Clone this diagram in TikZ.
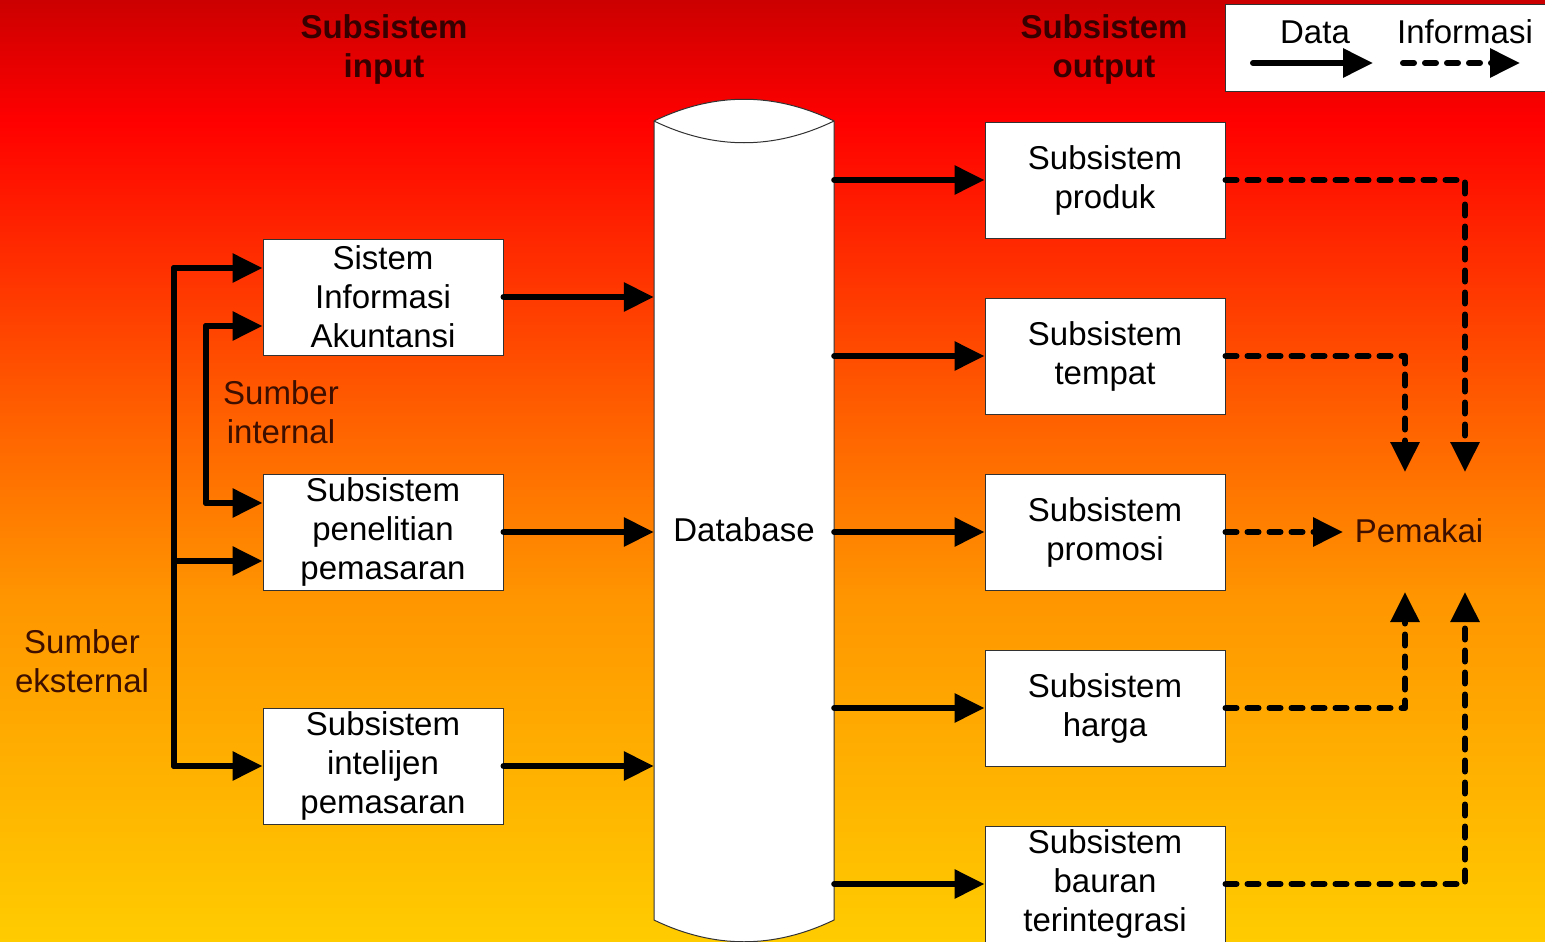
\documentclass[tikz,border=0pt]{standalone}
\usepackage{fontspec}
\setmainfont{Liberation Sans}
\usetikzlibrary{arrows.meta}
\definecolor{bgA}{RGB}{255,204,0}
\definecolor{bgB}{RGB}{255,150,0}
\definecolor{bgC}{RGB}{255,100,0}
\definecolor{bgD}{RGB}{255,40,0}
\definecolor{bgE}{RGB}{255,0,0}
\definecolor{bgF}{RGB}{204,0,0}
\definecolor{titlecol}{RGB}{55,0,0}
\definecolor{labelcol}{RGB}{60,15,0}
\definecolor{boxline}{RGB}{50,50,50}
\pgfdeclareverticalshading{bgshade}{100bp}{color(0bp)=(bgA); color(25bp)=(bgA); color(43.15bp)=(bgB); color(52.18bp)=(bgC); color(62.16bp)=(bgD); color(68.63bp)=(bgE); color(75bp)=(bgF); color(100bp)=(bgF)}
\tikzset{
  box/.style={draw=boxline, line width=1pt, fill=white, minimum width=240pt, minimum height=116pt, inner sep=0pt, align=center, font=\fontsize{33}{39}\selectfont},
  title/.style={align=center, text=titlecol, inner sep=0pt, font=\fontsize{33}{39}\selectfont\bfseries},
  label/.style={align=center, text=labelcol, inner sep=0pt, font=\fontsize{33}{39}\selectfont},
  plain/.style={align=center, inner sep=0pt, font=\fontsize{33}{39}\selectfont},
  data/.style={line width=6pt, line cap=round, line join=round, -{Triangle[length=30pt,width=28pt]}},
  info/.style={line width=6pt, line cap=round, line join=round, dash pattern=on 11pt off 11pt, -{Triangle[length=30pt,width=28pt]}}
}
\begin{document}
\begin{tikzpicture}[x=1pt, y=-1pt]
\useasboundingbox (0,0) rectangle (1545,942);
\shade[shading=bgshade] (0,0) rectangle (1545,942);

% titles
\node[title] (tin) at (384,49) {Subsistem\\input};
\node[title] (tout) at (1104,49) {Subsistem\\output};

% legend
\node[draw=boxline, line width=1pt, fill=white, minimum width=325pt, minimum height=87pt, inner sep=0pt, anchor=north west] (leg) at (1225,4) {};
\node[plain] (ldata) at (1315,32) {Data};
\node[plain] (linfo) at (1465,32) {Informasi};
\coordinate (l1) at (1253,63);
\coordinate (l2) at (1373,63);
\coordinate (l3) at (1403,63);
\coordinate (l4) at (1520,63);
\draw[data] (l1) -- (l2);
\draw[info] (l3) -- (l4);

% database cylinder
\draw[draw=boxline, line width=1pt, fill=white] (654,121) -- (654,920)
  .. controls (714,949) and (774,949) .. (834,920)
  -- (834,121)
  .. controls (774,92) and (714,92) .. (654,121) -- cycle;
\draw[draw=boxline, line width=1pt] (654,121) .. controls (714,150) and (774,150) .. (834,121);
\node[plain, minimum width=180pt] (db) at (744,530) {Database};

% input boxes
\node[box] (sia) at (383,297) {Sistem\\Informasi\\Akuntansi};
\node[box] (pen) at (383,532) {Subsistem\\penelitian\\pemasaran};
\node[box] (int) at (383,766) {Subsistem\\intelijen\\pemasaran};

% output boxes
\node[box] (prod) at (1105,180) {Subsistem\\produk};
\node[box] (temp) at (1105,356) {Subsistem\\tempat};
\node[box] (prom) at (1105,532) {Subsistem\\promosi};
\node[box] (harg) at (1105,708) {Subsistem\\harga};
\node[box] (baur) at (1105,884) {Subsistem\\bauran\\terintegrasi};

% labels
\node[label] (sint) at (281,412) {Sumber\\internal};
\node[label] (sext) at (82,661) {Sumber\\eksternal};
\node[label] (pem) at (1419,531) {Pemakai};

% source trunks
\coordinate (e1) at (174,268);
\coordinate (e2) at (174,561);
\coordinate (e3) at (174,766);
\coordinate (i1) at (206,326);
\coordinate (i2) at (206,503);
\draw[data] (e3) -- (e1) -- (e1 -| sia.west);
\draw[data] (e1) -- (e3) -- (e3 -| int.west);
\draw[data] (e2) -- (e2 -| pen.west);
\draw[data] (i2) -- (i1) -- (i1 -| sia.west);
\draw[data] (i1) -- (i2) -- (i2 -| pen.west);

% inputs to database
\draw[data] (sia.east) -- (sia.east -| db.west);
\draw[data] (pen.east) -- (pen.east -| db.west);
\draw[data] (int.east) -- (int.east -| db.west);

% database to outputs
\draw[data] (db.east |- prod.west) -- (prod.west);
\draw[data] (db.east |- temp.west) -- (temp.west);
\draw[data] (db.east |- prom.west) -- (prom.west);
\draw[data] (db.east |- harg.west) -- (harg.west);
\draw[data] (db.east |- baur.west) -- (baur.west);

% information to user
\coordinate (pa) at (1405,472);
\coordinate (pb) at (1465,472);
\coordinate (pc) at (1405,592);
\coordinate (pd) at (1465,592);
\coordinate (pe) at (1343,532);
\draw[info] (prod.east) -- (prod.east -| pb) -- (pb);
\draw[info] (temp.east) -- (temp.east -| pa) -- (pa);
\draw[info] (prom.east) -- (pe);
\draw[info] (harg.east) -- (harg.east -| pc) -- (pc);
\draw[info] (baur.east) -- (baur.east -| pd) -- (pd);
\end{tikzpicture}
\end{document}
